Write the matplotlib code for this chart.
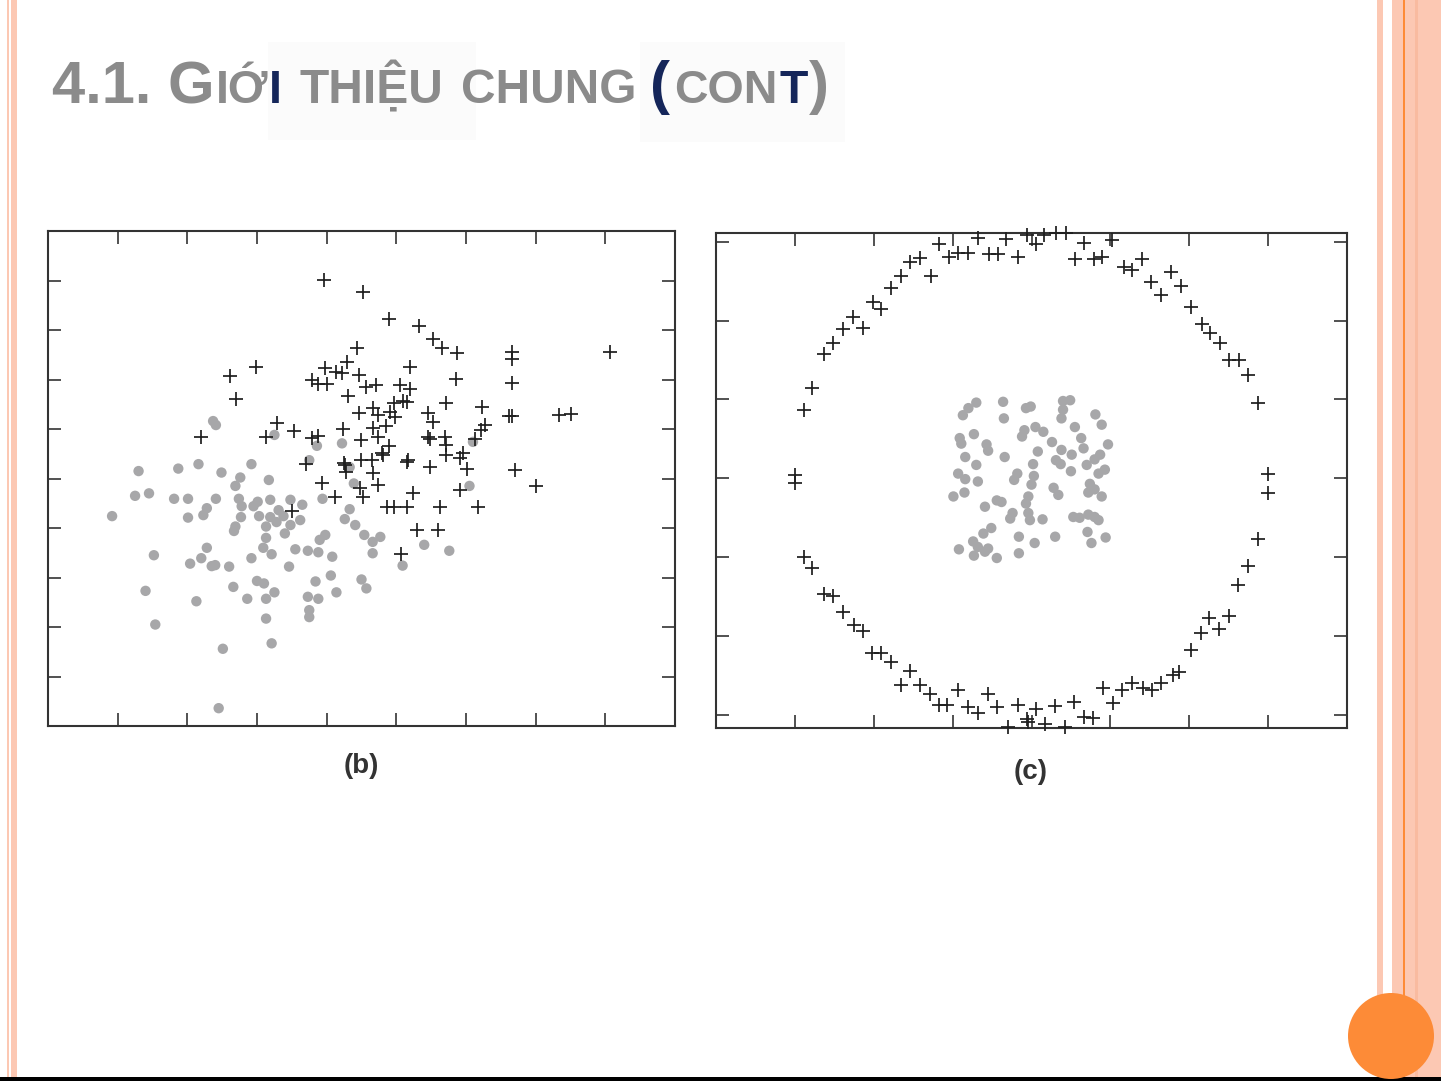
import matplotlib
matplotlib.use('Agg')
import matplotlib.pyplot as plt
from matplotlib.patches import Rectangle, Circle

# ---------------- data ----------------
# panel (b): gray dots
b_dot_x = [2.37, 2.41, 3.25, 3.86, 4.22, 3.75, 4.33, 1.30, 1.87, 2.16, 2.49, 2.92, 2.76, 2.69, 3.17,
           1.25, 1.45, 1.81, 2.01, 2.41, 2.74, 2.78, 2.95, 3.01, 3.19, 3.48, 3.65, 3.31, 3.38, 2.28,
           2.23, 2.01, 0.92, 2.77, 3.03, 3.19, 3.28, 3.13, 3.48, 3.62, 2.69, 2.67, 3.13, 3.40, 3.94,
           4.33, 4.26, 4.41, 4.54, 4.66, 4.77, 4.66, 3.98, 3.90, 3.88, 3.73, 4.08, 3.55, 3.21, 3.09,
           2.92, 2.28, 2.20, 2.04, 2.35, 2.40, 2.60, 1.52, 3.46, 4.06, 3.84, 4.14, 4.50, 4.57, 5.09,
           3.00, 3.10, 3.25, 2.66, 2.86, 3.13, 3.73, 3.88, 3.75, 3.75, 2.13, 1.40, 1.54, 3.13, 3.21,
           2.51, 2.45, 5.40, 5.76, 6.10, 6.05, 4.39]
b_dot_y = [6.16, 6.08, 5.88, 5.66, 5.71, 5.37, 5.23, 5.15, 5.20, 5.29, 5.12, 5.29, 5.02, 4.85, 4.97,
           4.65, 4.70, 4.59, 4.59, 4.59, 4.59, 4.44, 4.44, 4.53, 4.57, 4.57, 4.47, 4.36, 4.24, 4.40,
           4.26, 4.21, 4.24, 4.22, 4.24, 4.22, 4.12, 4.03, 4.06, 4.16, 4.03, 3.94, 3.80, 3.89, 4.59,
           4.38, 4.18, 4.06, 3.86, 3.72, 3.82, 3.49, 3.86, 3.76, 3.51, 3.54, 3.42, 3.57, 3.47, 3.60,
           3.39, 3.60, 3.39, 3.28, 3.23, 3.25, 3.22, 3.45, 3.22, 3.04, 2.92, 2.70, 2.96, 2.78, 3.24,
           2.93, 2.88, 2.70, 2.81, 2.57, 2.57, 2.61, 2.57, 2.34, 2.20, 2.52, 2.73, 2.05, 2.17, 1.67,
           1.56, 0.36, 3.66, 3.54, 5.74, 4.85, 4.90]
# panel (b): plus markers
b_plus_x = [3.96, 4.52, 4.89, 5.32, 5.53, 5.65, 5.87, 4.43, 4.29, 3.97, 4.14, 4.22, 4.47, 3.79, 3.87,
            4.00, 4.56, 4.71, 5.19, 5.05, 5.20, 5.86, 4.30, 4.96, 5.09, 5.15, 5.71, 6.23, 2.61, 2.99,
            2.70, 4.47, 4.66, 4.74, 4.91, 4.98, 5.45, 5.53, 4.85, 4.66, 4.23, 3.28, 2.20, 3.13, 3.53,
            3.79, 3.87, 4.50, 4.73, 4.90, 5.46, 5.49, 5.70, 5.72, 6.27, 6.22, 6.13, 3.70, 4.25, 4.28,
            4.49, 4.65, 4.80, 4.66, 5.17, 5.15, 5.49, 5.72, 5.91, 5.95, 6.02, 3.94, 4.48, 4.52, 4.73,
            4.12, 5.24, 5.91, 3.50, 4.86, 4.96, 5.16, 5.63, 6.17, 5.30, 5.60, 5.07, 6.66, 6.66, 8.07,
            6.66, 6.66, 6.62, 7.34, 7.51, 6.70, 7.01, 4.81, 4.26]
b_plus_y = [9.02, 8.76, 8.22, 8.08, 7.81, 7.64, 7.53, 7.63, 7.36, 7.24, 7.16, 7.13, 7.09, 7.00, 6.91,
            6.91, 6.85, 6.89, 7.25, 6.89, 6.80, 7.01, 6.67, 6.52, 6.57, 6.55, 6.53, 6.45, 7.08, 7.26,
            6.60, 6.32, 6.43, 6.28, 6.35, 6.25, 6.32, 6.14, 6.07, 6.03, 6.01, 6.13, 5.84, 5.84, 5.95,
            5.81, 5.86, 5.78, 5.84, 5.66, 5.84, 5.79, 5.84, 5.68, 6.08, 5.98, 5.80, 5.29, 5.31, 5.14,
            5.37, 5.37, 5.51, 5.11, 5.37, 5.34, 5.24, 5.47, 5.41, 5.51, 5.19, 4.90, 4.81, 4.62, 4.87,
            4.63, 4.70, 4.77, 4.35, 4.42, 4.42, 4.42, 4.43, 4.42, 3.96, 3.96, 3.47, 7.56, 7.41, 7.55,
            6.92, 6.26, 6.26, 6.28, 6.30, 5.17, 4.85, 5.47, 5.27]

# panel (c): gray dots (inner cluster)
c_dot_x = [3.13, 3.20, 3.30, 3.64, 3.65, 3.93, 3.99, 4.40, 4.49, 4.40, 4.38, 4.81, 4.89, 4.55, 4.05,
           4.15, 3.91, 3.88, 3.09, 3.11, 3.27, 3.43, 3.45, 4.26, 4.38, 4.63, 4.66, 4.97, 4.51, 4.08,
           3.66, 3.16, 3.30, 4.02, 4.31, 4.37, 4.50, 4.70, 4.80, 4.87, 3.07, 3.16, 3.32, 3.82, 3.78,
           4.03, 4.00, 4.93, 4.85, 4.74, 4.28, 4.34, 4.72, 4.80, 4.89, 3.01, 3.15, 3.41, 3.56, 3.62,
           3.96, 3.93, 3.76, 3.73, 3.96, 3.98, 4.14, 4.53, 4.61, 4.72, 4.80, 4.85, 3.49, 3.39, 3.84,
           4.30, 4.71, 4.94, 4.04, 4.76, 3.26, 3.32, 3.45, 3.08, 3.27, 3.41, 3.56, 3.84]
c_dot_y = [3.80, 3.89, 3.96, 3.97, 3.76, 3.89, 3.91, 3.98, 3.99, 3.87, 3.76, 3.81, 3.68, 3.65, 3.65,
           3.59, 3.61, 3.53, 3.51, 3.44, 3.56, 3.43, 3.35, 3.46, 3.36, 3.51, 3.38, 3.43, 3.30, 3.34,
           3.27, 3.27, 3.17, 3.18, 3.23, 3.18, 3.09, 3.17, 3.24, 3.30, 3.06, 2.99, 2.96, 3.06, 2.98,
           3.03, 2.92, 3.11, 3.06, 2.93, 2.88, 2.79, 2.82, 2.86, 2.77, 2.77, 2.82, 2.64, 2.72, 2.70,
           2.77, 2.68, 2.56, 2.49, 2.56, 2.47, 2.48, 2.51, 2.50, 2.54, 2.51, 2.47, 2.37, 2.30, 2.26,
           2.26, 2.32, 2.25, 2.18, 2.18, 2.20, 2.13, 2.11, 2.10, 2.02, 2.07, 1.99, 2.05]
# panel (c): plus markers (outer ring)
c_plus_x = [1.00, 1.00, 1.11, 1.22, 1.37, 1.48, 1.61, 1.74, 1.86, 1.99, 2.09, 2.22, 2.35, 2.46, 2.59,
            2.72, 2.83, 2.95, 3.07, 3.20, 3.32, 3.46, 3.57, 3.68, 3.83, 3.94, 4.06, 4.16, 4.31, 4.44,
            4.55, 4.67, 4.79, 4.90, 5.02, 5.17, 5.27, 5.40, 5.52, 5.64, 5.77, 5.89, 6.02, 6.16, 6.26,
            6.39, 6.51, 6.63, 6.75, 6.87, 7.00, 7.00, 6.87, 6.75, 6.62, 6.50, 6.38, 6.25, 6.15, 6.02,
            5.87, 5.79, 5.64, 5.53, 5.41, 5.28, 5.15, 5.03, 4.91, 4.78, 4.67, 4.54, 4.43, 4.30, 4.17,
            4.06, 3.94, 3.95, 3.83, 3.70, 3.56, 3.45, 3.32, 3.19, 3.07, 2.93, 2.83, 2.71, 2.59, 2.46,
            2.35, 2.22, 2.09, 1.98, 1.86, 1.75, 1.61, 1.48, 1.37, 1.22, 1.11]
c_plus_y = [3.04, 2.94, 3.87, 4.15, 4.58, 4.72, 4.89, 5.04, 4.90, 5.23, 5.15, 5.41, 5.57, 5.74, 5.79,
            5.57, 5.97, 5.80, 5.86, 5.86, 6.05, 5.84, 5.84, 6.03, 5.81, 6.09, 5.97, 6.08, 6.11, 6.11,
            5.78, 5.98, 5.78, 5.80, 6.02, 5.68, 5.64, 5.78, 5.49, 5.32, 5.62, 5.44, 5.17, 4.96, 4.84,
            4.71, 4.50, 4.50, 4.31, 3.96, 3.05, 2.82, 2.23, 1.89, 1.65, 1.26, 1.09, 1.23, 1.04, 0.82,
            0.55, 0.51, 0.40, 0.32, 0.34, 0.41, 0.32, 0.15, 0.34, -0.04, -0.02, 0.17, -0.15, 0.11, -0.11,
            0.07, -0.05, -0.09, 0.13, -0.15, 0.10, 0.27, 0.02, 0.10, 0.32, 0.13, 0.13, 0.27, 0.38, 0.56,
            0.38, 0.67, 0.78, 0.78, 1.06, 1.14, 1.30, 1.51, 1.54, 1.86, 2.00]

b_xticks = [1, 2, 3, 4, 5, 6, 7, 8]
b_yticks = [1, 2, 3, 4, 5, 6, 7, 8, 9]
c_xticks = [1, 2, 3, 4, 5, 6, 7]
c_yticks = [0, 1, 2, 3, 4, 5, 6]

# ---------------- figure ----------------
W, H = 1441, 1081
fig = plt.figure(figsize=(W / 100, H / 100), dpi=100)
fig.patch.set_facecolor('white')

bg = fig.add_axes([0, 0, 1, 1], zorder=0)
bg.set_xlim(0, W)
bg.set_ylim(H, 0)
bg.axis('off')

PEACH = '#FCC8B3'
ORANGE = '#FD8B37'


def rect(x0, x1, y0, y1, c):
    bg.add_patch(Rectangle((x0, y0), x1 - x0, y1 - y0, facecolor=c, edgecolor='none', lw=0))


# slide decorations
rect(268, 476, 42, 140, '#fbfbfb')
rect(640, 845, 42, 142, '#fbfbfb')
rect(7, 8.5, 0, H, PEACH)
rect(11, 17, 0, H, PEACH)
rect(1377, 1383, 0, H, PEACH)
rect(1392, W, 0, H, PEACH)
rect(1403, 1405, 0, H, ORANGE)
rect(1415, 1418, 0, H, '#F9BBA0')
rect(0, W, 1077, H, '#000000')
bg.add_patch(Circle((1391, 1036), 43, facecolor=ORANGE, edgecolor='none'))

# title
GRAY = '#8b8b8b'
NAVY = '#15265A'
FONT = 'Liberation Sans'
title_parts = [
    (52, '4.1. G', 43, GRAY),
    (216, 'IỚ', 33.5, GRAY),
    (269, 'I', 33.5, NAVY),
    (300, 'THIỆU', 34.5, GRAY),
    (461, 'CHUNG', 34.5, GRAY),
    (650, '(', 43, NAVY),
    (674, 'CON', 33.5, GRAY),
    (779, 'T', 33.5, NAVY),
    (809, ')', 43, GRAY),
]
for x, s, fs, c in title_parts:
    bg.text(x, 103, s, fontsize=fs, color=c, fontfamily=FONT, fontweight='bold',
            ha='left', va='baseline')

bg.text(361, 773, '(b)', fontsize=20, color='#333333', fontfamily=FONT, fontweight='bold',
        ha='center', va='baseline')
bg.text(1031, 779, '(c)', fontsize=20, color='#333333', fontfamily=FONT, fontweight='bold',
        ha='center', va='baseline')

DOT = '#a7a7a9'
PLUS = '#1e1e1e'
SPINE = '#333333'


def style(ax, xt, yt):
    for sp in ax.spines.values():
        sp.set_color(SPINE)
        sp.set_linewidth(1.5)
    ax.set_xticks(xt)
    ax.set_yticks(yt)
    ax.tick_params(direction='in', length=9.5, width=1.2, color=SPINE,
                   top=True, right=True, bottom=True, left=True,
                   labelbottom=False, labelleft=False)
    ax.set_facecolor('white')


ax1 = fig.add_axes([48 / W, 1 - 726 / H, 627 / W, 495 / H], zorder=2)
ax1.scatter(b_dot_x, b_dot_y, s=56, color=DOT, edgecolors='none', zorder=2)
ax1.scatter(b_plus_x, b_plus_y, s=110, marker='+', color=PLUS, linewidths=1.25, zorder=3)
ax1.set_xlim(0, 9)
ax1.set_ylim(0, 10)
style(ax1, b_xticks, b_yticks)

ax2 = fig.add_axes([716 / W, 1 - 728 / H, 631 / W, 495 / H], zorder=2)
ax2.scatter(c_dot_x, c_dot_y, s=56, color=DOT, edgecolors='none', zorder=2)
ax2.scatter(c_plus_x, c_plus_y, s=110, marker='+', color=PLUS, linewidths=1.25, zorder=3,
            clip_on=False)
ax2.set_xlim(0, 8)
ax2.set_ylim(-0.165, 6.11)
style(ax2, c_xticks, c_yticks)

fig.savefig('out.png', dpi=100)
